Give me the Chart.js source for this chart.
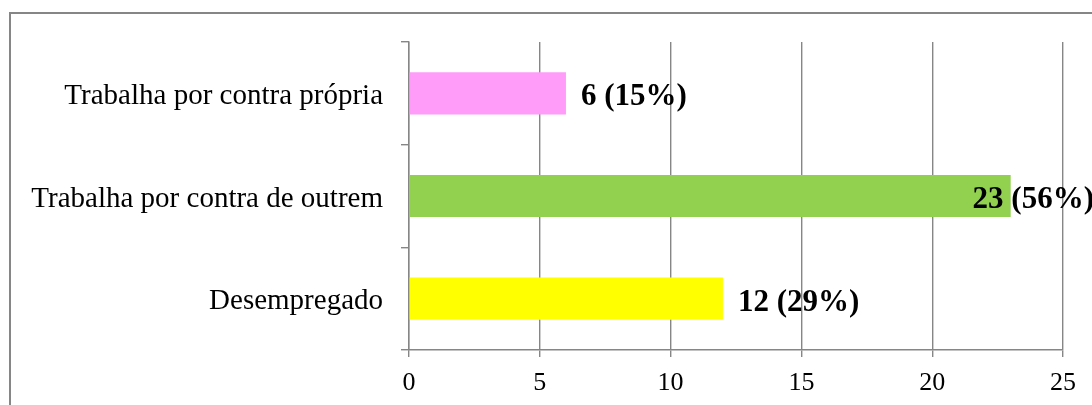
<!DOCTYPE html>
<html>
<head>
<meta charset="utf-8">
<script src="https://cdn.jsdelivr.net/npm/chart.js@4"></script>
<style>
  body { margin: 0; background: #fff; }
  #wrap { width: 1092px; height: 405px; position: relative; }
</style>
</head>
<body>
<div id="wrap"><canvas id="chart1"></canvas></div>
<script>
const labels = ['Trabalha por contra própria', 'Trabalha por contra de outrem', 'Desempregado'];
const counts = [6, 23, 12];
const percents = [15, 56, 29];
const barColors = ['#ff9cf9', '#92d050', '#ffff00'];
const xTicks = [0, 5, 10, 15, 20, 25];

const lineGray = '#868686';
const serif = "'Liberation Serif', 'Times New Roman', serif";

// frame around the whole chart (only top and left edges fall inside the canvas)
const frame = {
  id: 'frame',
  beforeDraw(chart) {
    const c = chart.ctx;
    c.save();
    c.strokeStyle = lineGray;
    c.lineWidth = 2;
    c.beginPath();
    c.moveTo(10, chart.height + 5);
    c.lineTo(10, 13);
    c.lineTo(chart.width + 5, 13);
    c.stroke();
    c.restore();
  }
};

// "n (p%)" labels after each bar, pulled back inside the canvas when too long
const barLabels = {
  id: 'barLabels',
  afterDatasetsDraw(chart) {
    const c = chart.ctx;
    const meta = chart.getDatasetMeta(0);
    c.save();
    c.font = 'bold 31px ' + serif;
    c.fillStyle = '#000';
    c.textBaseline = 'middle';
    meta.data.forEach(function(bar, i) {
      const text = counts[i] + ' (' + percents[i] + '%)';
      const w = c.measureText(text).width;
      const x = Math.min(bar.x + 15, chart.width - w + 2);
      c.fillText(text, x, bar.y + 4);
    });
    c.restore();
  }
};

const ctx = document.getElementById('chart1').getContext('2d');

const chart1 = new Chart(ctx, {
  type: 'bar',
  data: {
    labels: labels,
    datasets: [{
      data: counts,
      backgroundColor: barColors,
      borderWidth: 0,
      categoryPercentage: 0.41,
      barPercentage: 1
    }]
  },
  options: {
    indexAxis: 'y',
    responsive: true,
    maintainAspectRatio: false,
    animation: false,
    layout: {
      padding: { top: 42, right: 29, left: 0, bottom: 0 }
    },
    plugins: {
      legend: { display: false },
      tooltip: { enabled: false }
    },
    scales: {
      x: {
        min: 0,
        max: 25,
        afterBuildTicks: function(scale) {
          scale.ticks = xTicks.map(v => ({ value: v }));
        },
        afterFit: function(scale) {
          scale.height = 55;
        },
        grid: {
          color: lineGray,
          lineWidth: 1.4,
          tickLength: 7,
          drawOnChartArea: true
        },
        border: { color: lineGray, width: 1.4 },
        ticks: {
          color: '#000',
          padding: 11,
          font: { family: serif, size: 26 }
        }
      },
      y: {
        afterFit: function(scale) {
          scale.width = 409;
        },
        grid: {
          offset: true,
          color: lineGray,
          lineWidth: 1.4,
          tickLength: 8,
          drawOnChartArea: false
        },
        border: { color: lineGray, width: 1.4 },
        ticks: {
          color: '#000',
          padding: 18,
          labelOffset: 3,
          font: { family: serif, size: 29 }
        }
      }
    }
  },
  plugins: [frame, barLabels]
});
</script>
</body>
</html>
